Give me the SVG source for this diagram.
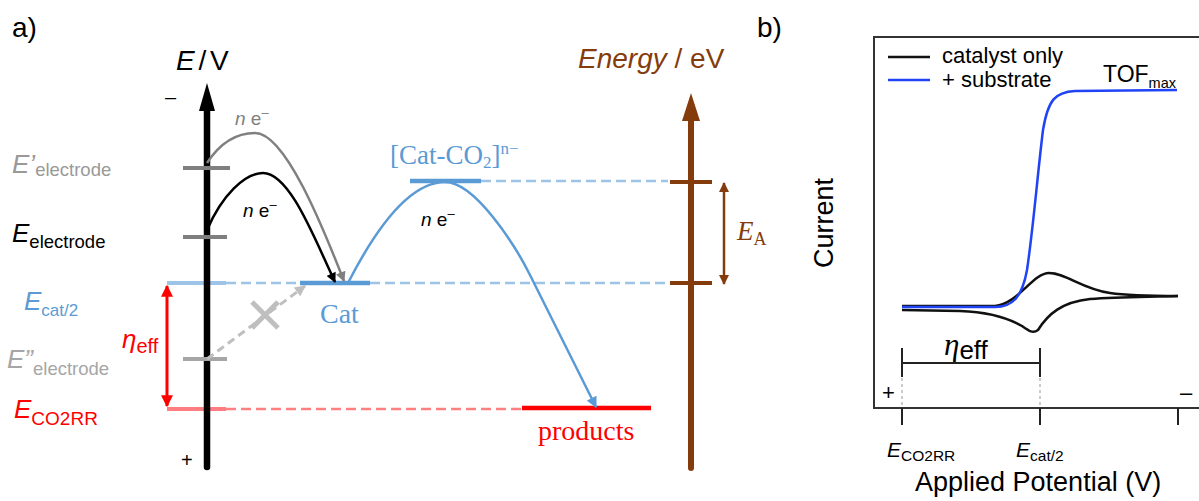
<svg xmlns="http://www.w3.org/2000/svg" width="1199" height="501" viewBox="0 0 1199 501">
<defs>
<style>
.sans{font-family:"Liberation Sans",Arial,sans-serif}
.serif{font-family:"Liberation Serif","Times New Roman",serif}
.it{font-style:italic}
.dash-blue{stroke:#9DC3E6;stroke-width:2.5;stroke-dasharray:10 5;fill:none}
.dash-red{stroke:#FF8080;stroke-width:2.5;stroke-dasharray:10 5;fill:none}
</style>
<marker id="ah-black" viewBox="0 0 10 10" refX="9" refY="5" markerWidth="11" markerHeight="10" markerUnits="userSpaceOnUse" orient="auto"><path d="M0,0 L10,5 L0,10 z" fill="#000"/></marker>
<marker id="ah-gray" viewBox="0 0 10 10" refX="9" refY="5" markerWidth="11" markerHeight="10" markerUnits="userSpaceOnUse" orient="auto"><path d="M0,0 L10,5 L0,10 z" fill="#808080"/></marker>
<marker id="ah-lgray" viewBox="0 0 10 10" refX="9" refY="5" markerWidth="12" markerHeight="11" markerUnits="userSpaceOnUse" orient="auto"><path d="M0,0 L10,5 L0,10 z" fill="#BFBFBF"/></marker>
<marker id="ah-blue" viewBox="0 0 10 10" refX="9" refY="5" markerWidth="12" markerHeight="11" markerUnits="userSpaceOnUse" orient="auto"><path d="M0,0 L10,5 L0,10 z" fill="#5B9BD5"/></marker>
<marker id="ah-red" viewBox="0 0 10 10" refX="9" refY="5" markerWidth="12" markerHeight="12" markerUnits="userSpaceOnUse" orient="auto-start-reverse"><path d="M0,0 L10,5 L0,10 z" fill="#FF0000"/></marker>
<marker id="ah-brown" viewBox="0 0 10 10" refX="9" refY="5" markerWidth="11" markerHeight="10" markerUnits="userSpaceOnUse" orient="auto-start-reverse"><path d="M0,0 L10,5 L0,10 z" fill="#843C0C"/></marker>
</defs>
<rect width="1199" height="501" fill="#fff"/>

<!-- ===== Panel a ===== -->
<text class="sans" x="12" y="37" font-size="28" fill="#000">a)</text>

<g id="levels">
  <line x1="167" y1="283" x2="226" y2="283" stroke="#9DC3E6" stroke-width="4"/>
  <line x1="167" y1="409" x2="226" y2="409" stroke="#FF7C80" stroke-width="4"/>
  <line x1="226" y1="283" x2="300" y2="283" class="dash-blue"/>
  <line x1="370" y1="283" x2="668" y2="283" class="dash-blue"/>
  <line x1="481" y1="181" x2="668" y2="181" class="dash-blue"/>
  <line x1="226" y1="409" x2="522" y2="409" class="dash-red"/>
</g>

<g id="axis-E">
  <line x1="207" y1="105" x2="207" y2="467" stroke="#000" stroke-width="6.5" stroke-linecap="round"/>
  <polygon points="207,83 199,111 215,111" fill="#000"/>
  <text class="sans" x="176" y="70" font-size="28" word-spacing="-4"><tspan class="it">E</tspan> / V</text>
  <text class="sans" x="165" y="104" font-size="20">–</text>
  <text class="sans" x="181" y="467" font-size="20">+</text>
  <line x1="183" y1="168" x2="230" y2="168" stroke="#7F7F7F" stroke-width="4"/>
  <line x1="183" y1="237" x2="227" y2="237" stroke="#7F7F7F" stroke-width="4"/>
  <line x1="183" y1="359" x2="227" y2="359" stroke="#A6A6A6" stroke-width="4"/>
</g>

<g id="label-Eprime">
  <text class="sans" x="12" y="173" font-size="26" fill="#999"><tspan class="it">E’</tspan><tspan font-size="18.5" dy="3">electrode</tspan></text>
</g>
<g id="label-Eelectrode">
  <text class="sans" x="12" y="242" font-size="26" fill="#000"><tspan class="it">E</tspan><tspan font-size="18.5" dy="6">electrode</tspan></text>
</g>
<g id="label-Ecat">
  <text class="sans" x="24" y="310" font-size="26" fill="#5B9BD5"><tspan class="it">E</tspan><tspan font-size="17" dy="6">cat/2</tspan></text>
</g>
<g id="label-Edprime">
  <text class="sans" x="7" y="368" font-size="26" fill="#A6A6A6"><tspan class="it">E”</tspan><tspan font-size="18.5" dy="7">electrode</tspan></text>
</g>
<g id="label-ECO2RR">
  <text class="sans" x="14" y="418" font-size="26" fill="#FF0000"><tspan class="it">E</tspan><tspan font-size="19" dy="7">CO2RR</tspan></text>
</g>
<g id="label-eta">
  <text class="sans" x="122" y="348" font-size="26" fill="#FF0000"><tspan class="it">η</tspan><tspan font-size="20" dy="5">eff</tspan></text>
</g>

<g id="node-Cat">
  <line x1="300" y1="283" x2="370" y2="283" stroke="#5B9BD5" stroke-width="4.5"/>
  <text class="serif" x="320" y="323" font-size="28" fill="#5B9BD5">Cat</text>
</g>
<g id="node-CatCO2">
  <line x1="410" y1="181" x2="481" y2="181" stroke="#5B9BD5" stroke-width="4.5"/>
  <text class="serif" x="390" y="164" font-size="27" fill="#5B9BD5">[Cat-CO<tspan font-size="17" dy="4">2</tspan><tspan dy="-4">]</tspan><tspan font-size="17" dy="-10">n−</tspan></text>
</g>
<g id="node-products">
  <line x1="522" y1="408" x2="651" y2="408" stroke="#FF0000" stroke-width="4.5"/>
  <text class="serif" x="538" y="440" font-size="28" fill="#FF0000">products</text>
</g>

<g id="axis-Energy">
  <line x1="691" y1="112" x2="691" y2="468" stroke="#843C0C" stroke-width="6" stroke-linecap="round"/>
  <polygon points="691,93 682,121 700,121" fill="#843C0C"/>
  <line x1="670" y1="182" x2="712" y2="182" stroke="#843C0C" stroke-width="4"/>
  <line x1="670" y1="283" x2="712" y2="283" stroke="#843C0C" stroke-width="4"/>
  <text class="sans" x="578" y="68" font-size="28" fill="#843C0C"><tspan class="it">Energy</tspan> / eV</text>
  <text class="serif it" x="737" y="240" font-size="27" fill="#843C0C">E<tspan font-size="18" dy="5" font-style="normal">A</tspan></text>
</g>

<g id="connectors">
  <path d="M207,163 C222,140 240,133 255,133 C285,133 322,225 344,281" fill="none" stroke="#808080" stroke-width="2.5" marker-end="url(#ah-gray)"/>
  <path d="M207,230 C222,195 245,173 263,173 C290,173 315,240 335,282" fill="none" stroke="#000" stroke-width="2.5" marker-end="url(#ah-black)"/>
  <path d="M348,283 C370,240 405,182 445,182 C475,182 515,245 530,275 L596,407" fill="none" stroke="#5B9BD5" stroke-width="2.5" marker-end="url(#ah-blue)"/>
  <line x1="207" y1="359" x2="305" y2="286" stroke="#BFBFBF" stroke-width="3" stroke-dasharray="8 5" marker-end="url(#ah-lgray)"/>
  <line x1="252" y1="302" x2="278" y2="328" stroke="#BFBFBF" stroke-width="5"/>
  <line x1="278" y1="302" x2="252" y2="328" stroke="#BFBFBF" stroke-width="5"/>
  <line x1="167" y1="286" x2="167" y2="406" stroke="#FF0000" stroke-width="3" marker-start="url(#ah-red)" marker-end="url(#ah-red)"/>
  <line x1="724" y1="183" x2="724" y2="284" stroke="#843C0C" stroke-width="2.5" marker-start="url(#ah-brown)" marker-end="url(#ah-brown)"/>
  <text class="sans" x="235" y="125" font-size="19" fill="#808080"><tspan class="it">n</tspan> e<tspan font-size="13" dy="-8">–</tspan></text>
  <text class="sans" x="243" y="217" font-size="19" fill="#000"><tspan class="it">n</tspan> e<tspan font-size="13" dy="-8">–</tspan></text>
  <text class="sans" x="421" y="226" font-size="19" fill="#000"><tspan class="it">n</tspan> e<tspan font-size="13" dy="-8">–</tspan></text>
</g>

<!-- ===== Panel b ===== -->
<text class="sans" x="757" y="37" font-size="28" fill="#000">b)</text>
<g id="plot-frame">
  <polyline points="1199,37 874,37 874,408 1199,408" fill="none" stroke="#333" stroke-width="2"/>
  <line x1="902" y1="408" x2="902" y2="425" stroke="#222" stroke-width="2"/>
  <line x1="1040" y1="408" x2="1040" y2="425" stroke="#222" stroke-width="2"/>
  <line x1="1178" y1="408" x2="1178" y2="425" stroke="#222" stroke-width="2"/>
  <text class="sans" x="882" y="400" font-size="22">+</text>
  <text class="sans" x="1180" y="400" font-size="22">–</text>
  <text class="sans" transform="translate(833,223) rotate(-90)" text-anchor="middle" font-size="27">Current</text>
  <text class="sans" x="915" y="491" font-size="27">Applied Potential (V)</text>
  <text class="sans" x="887" y="457" font-size="21"><tspan class="it">E</tspan><tspan font-size="15.5" dy="4">CO2RR</tspan></text>
  <text class="sans" x="1016" y="457" font-size="21"><tspan class="it">E</tspan><tspan font-size="15.5" dy="4">cat/2</tspan></text>
</g>
<g id="legend">
  <line x1="888" y1="57" x2="930" y2="57" stroke="#111" stroke-width="2.5"/>
  <text class="sans" x="942" y="63" font-size="22">catalyst only</text>
  <line x1="888" y1="80" x2="930" y2="80" stroke="#1F43F5" stroke-width="2.5"/>
  <text class="sans" x="942" y="87" font-size="22">+ substrate</text>
  <text class="sans" x="1103" y="82" font-size="23">TOF<tspan font-size="14.5" dy="6">max</tspan></text>
</g>
<g id="curves">
  <path d="M902,306 L995,306 C1018,304 1033,273 1049,273 C1066,273 1082,289 1110,293 C1130,296 1160,296 1178,296" fill="none" stroke="#111" stroke-width="2.5"/>
  <path d="M902,310 L960,311 C990,312 1008,318 1022,326 C1029,331 1033,334 1038,330 C1048,314 1062,302 1090,299 C1120,297 1150,297 1178,296" fill="none" stroke="#111" stroke-width="2.5"/>
  <path d="M902,307 L995,307 C1012,307 1022,298 1027,270 C1033,230 1038,170 1043,130 C1048,100 1055,92 1075,91 L1177,90" fill="none" stroke="#1F43F5" stroke-width="2.5"/>
</g>
<g id="eta-bracket">
  <line x1="902" y1="363" x2="1040" y2="363" stroke="#222" stroke-width="2"/>
  <line x1="902" y1="348" x2="902" y2="377" stroke="#222" stroke-width="2"/>
  <line x1="1040" y1="348" x2="1040" y2="377" stroke="#222" stroke-width="2"/>
  <line x1="902" y1="378" x2="902" y2="407" stroke="#BBB" stroke-width="1.5" stroke-dasharray="3 3"/>
  <line x1="1040" y1="378" x2="1040" y2="407" stroke="#BBB" stroke-width="1.5" stroke-dasharray="3 3"/>
  <text x="944" y="355" font-size="31"><tspan class="serif it">η</tspan><tspan class="sans" font-size="26" dy="4">eff</tspan></text>
</g>
</svg>
